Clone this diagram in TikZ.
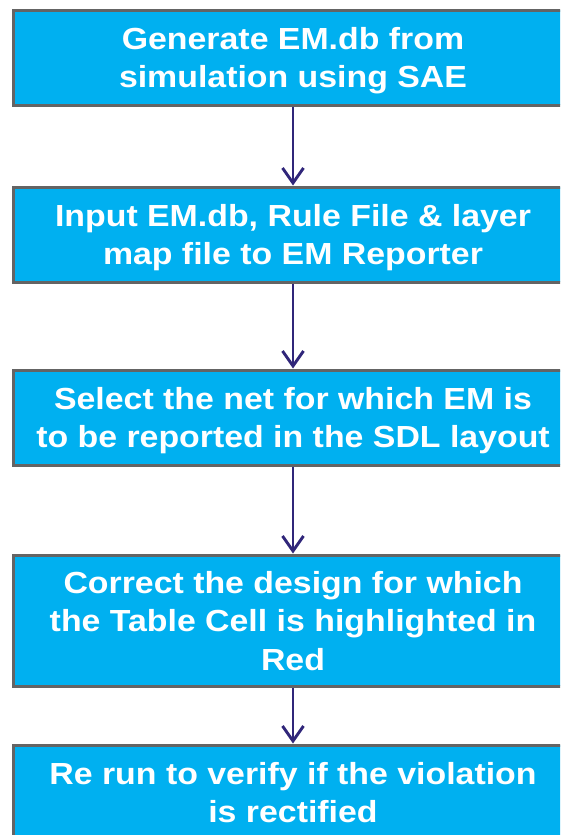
\documentclass[tikz,border=0pt]{standalone}
\usepackage{fontspec}
\usepackage{xcolor}
\usepackage{tikz}
\usetikzlibrary{positioning,arrows.meta}
\newfontfamily\flowfont{Liberation Sans}[FakeStretch=1.11]
\definecolor{StepCyan}{RGB}{0,176,240}
\definecolor{EdgeGray}{RGB}{100,100,100}
\definecolor{ArrowNavy}{RGB}{48,38,122}

\begin{document}
\begin{tikzpicture}[
  every node/.style={font=\flowfont\bfseries\fontsize{30.5}{38.5}\selectfont, align=center, text=white},
  box/.style={draw=EdgeGray, line width=3pt, fill=StepCyan, minimum width=559pt, minimum height=95pt, inner sep=2pt, text depth=0pt},
  arr/.style={-{Straight Barb[length=15pt,width=21pt]}, line width=2.9pt, draw=ArrowNavy}
]
\useasboundingbox (0,0) rectangle (560pt,-835pt);
\clip (0,0) rectangle (560pt,-835pt);
\node[box] (generate) at (293pt,-57.5pt) {Generate EM.db from\\simulation using SAE};
\node[box, below=79pt of generate] (input) {Input EM.db, Rule File \& layer\\map file to EM Reporter};
\node[box, below=85pt of input] (select) {Select the net for which EM is\\to be reported in the SDL layout};
\node[box, below=87pt of select, minimum height=131pt] (correct) {Correct the design for which\\the Table Cell is highlighted in\\Red};
\node[box, below=56pt of correct] (rerun) {Re run to verify if the violation\\is rectified};

\draw[arr] (generate) -- (input);
\draw[arr] (input) -- (select);
\draw[arr] (select) -- (correct);
\draw[arr] (correct) -- (rerun);
\end{tikzpicture}
\end{document}
